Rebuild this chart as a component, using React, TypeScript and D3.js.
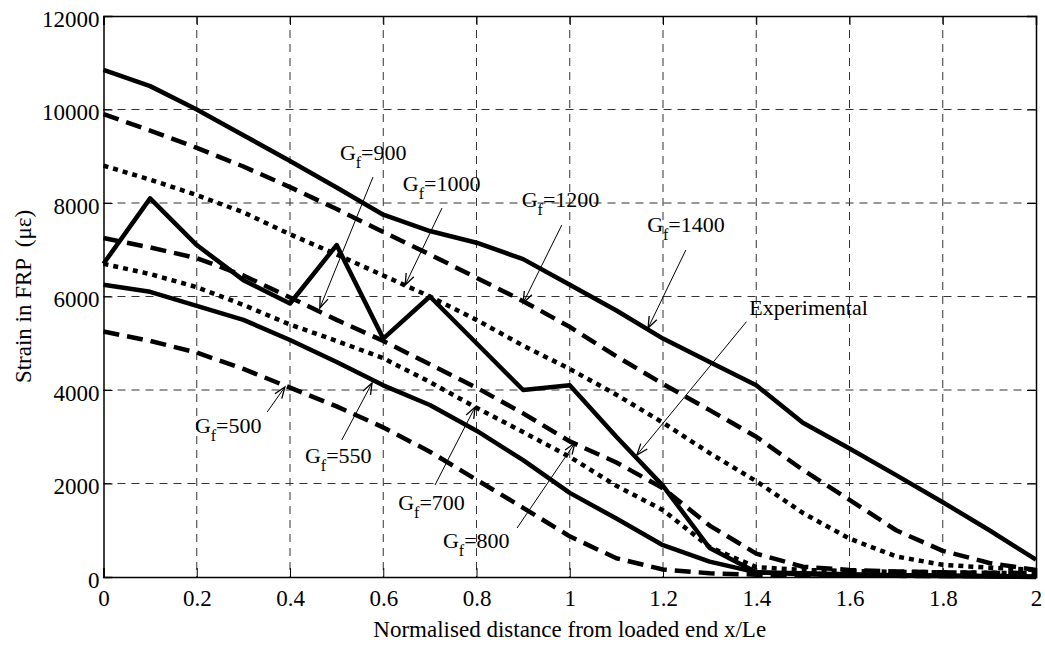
import React, { useEffect, useRef } from 'react';
import * as d3 from 'd3';

// normalised distance x/Le of every sample
const xValues = [0, 0.1, 0.2, 0.3, 0.4, 0.5, 0.6, 0.7, 0.8, 0.9, 1.0, 1.1, 1.2, 1.3, 1.4, 1.5, 1.6, 1.7, 1.8, 1.9, 2.0];

// strain in FRP (micro-strain)
const gf1400 = [10850, 10500, 10000, 9450, 8900, 8330, 7750, 7400, 7150, 6800, 6250, 5700, 5100, 4600, 4100, 3300, 2750, 2180, 1600, 1000, 370];
const gf1200 = [9900, 9550, 9180, 8780, 8340, 7870, 7380, 6900, 6400, 5900, 5350, 4720, 4130, 3570, 3000, 2290, 1650, 1000, 560, 300, 150];
const gf1000 = [8800, 8500, 8170, 7800, 7330, 6900, 6450, 6000, 5500, 4950, 4450, 3900, 3300, 2650, 2050, 1370, 820, 440, 260, 200, 150];
const gf800 = [7250, 7050, 6820, 6450, 5980, 5500, 5050, 4550, 4050, 3500, 2900, 2450, 1900, 1100, 500, 220, 150, 120, 100, 90, 80];
const gf700 = [6700, 6480, 6200, 5820, 5400, 5050, 4680, 4170, 3620, 3100, 2570, 1950, 1430, 640, 210, 150, 130, 110, 100, 90, 80];
const gf550 = [6250, 6100, 5800, 5500, 5070, 4600, 4100, 3680, 3130, 2500, 1800, 1250, 680, 330, 100, 80, 60, 40, 30, 20, 10];
const gf500 = [5250, 5050, 4800, 4450, 4050, 3650, 3200, 2680, 2080, 1480, 870, 400, 160, 80, 50, 40, 30, 25, 20, 20, 20];
const experimental = [6700, 8100, 7100, 6350, 5850, 7100, 5100, 6000, 5000, 4000, 4100, 3000, 1950, 620, 100, 60, 40, 30, 20, 10, 0];

const xTicks = [0, 0.2, 0.4, 0.6, 0.8, 1, 1.2, 1.4, 1.6, 1.8, 2];
const yTicks = [0, 2000, 4000, 6000, 8000, 10000, 12000];

type LineStyle = 'solid' | 'dashed' | 'dotted';

const curves: { values: number[]; style: LineStyle }[] = [
  { values: gf1400, style: 'solid' },
  { values: gf1200, style: 'dashed' },
  { values: gf1000, style: 'dotted' },
  { values: gf800, style: 'dashed' },
  { values: gf700, style: 'dotted' },
  { values: gf550, style: 'solid' },
  { values: gf500, style: 'dashed' },
  { values: experimental, style: 'solid' },
];

// label anchor, arrow tail and arrow tip, all in data units
const labels = [
  { gf: '900', at: [0.507, 8920], from: [0.578, 8556], to: [0.464, 5754] },
  { gf: '1000', at: [0.642, 8257], from: [0.726, 7893], to: [0.647, 6246] },
  { gf: '1200', at: [0.897, 7914], from: [0.983, 7529], to: [0.9, 5861] },
  { gf: '1400', at: [1.166, 7380], from: [1.249, 6995], to: [1.168, 5326] },
  { gf: '500', at: [0.196, 3080], from: [0.351, 3529], to: [0.389, 4064] },
  { gf: '550', at: [0.432, 2439], from: [0.511, 2930], to: [0.576, 4150] },
  { gf: '700', at: [0.632, 1433], from: [0.711, 1968], to: [0.797, 3636] },
  { gf: '800', at: [0.728, 620], from: [0.887, 1048], to: [1.011, 2866] },
];
const expLabel = { text: 'Experimental', at: [1.385, 5604], from: [1.379, 5461], to: [1.144, 2610] };

const FONT = '"Liberation Serif", "Times New Roman", serif';

const StrainChart: React.FC = () => {
  const svgRef = useRef<SVGSVGElement>(null);

  useEffect(() => {
    if (!svgRef.current) return;
    const svg = d3.select(svgRef.current);
    svg.selectAll('*').remove();

    const width = 1045;
    const height = 645;
    const margin = { top: 16, right: 9, bottom: 68, left: 103.5 };
    const innerW = width - margin.left - margin.right;
    const innerH = height - margin.top - margin.bottom;

    svg.attr('width', width).attr('height', height);

    const x = d3.scaleLinear().domain([0, 2]).range([0, innerW]);
    const y = d3.scaleLinear().domain([0, 12000]).range([innerH, 0]);

    const g = svg.append('g').attr('transform', `translate(${margin.left},${margin.top})`);

    // grid
    g.selectAll('.vgrid')
      .data(xTicks.slice(1, -1))
      .enter()
      .append('line')
      .attr('x1', d => x(d)).attr('x2', d => x(d))
      .attr('y1', 0).attr('y2', innerH)
      .attr('stroke', '#333').attr('stroke-width', 1)
      .attr('stroke-dasharray', '8,6');
    g.selectAll('.hgrid')
      .data(yTicks.slice(1, -1))
      .enter()
      .append('line')
      .attr('x1', 0).attr('x2', innerW)
      .attr('y1', d => y(d)).attr('y2', d => y(d))
      .attr('stroke', '#333').attr('stroke-width', 1)
      .attr('stroke-dasharray', '8,6');

    // curves
    const line = d3.line<number>()
      .x((_, i) => x(xValues[i]))
      .y(d => y(d));

    const dash: Record<LineStyle, string | null> = {
      solid: null,
      dashed: '16,8',
      dotted: '5,5',
    };

    curves.forEach(c => {
      g.append('path')
        .datum(c.values)
        .attr('d', line)
        .attr('fill', 'none')
        .attr('stroke', '#000')
        .attr('stroke-width', 4.5)
        .attr('stroke-linejoin', 'round')
        .attr('stroke-dasharray', dash[c.style]);
    });

    // arrows
    const drawArrow = (from: number[], to: number[]) => {
      const x1 = x(from[0]), y1 = y(from[1]);
      const x2 = x(to[0]), y2 = y(to[1]);
      const ang = Math.atan2(y2 - y1, x2 - x1);
      const len = 12, spread = 0.36;
      g.append('line')
        .attr('x1', x1).attr('y1', y1).attr('x2', x2).attr('y2', y2)
        .attr('stroke', '#000').attr('stroke-width', 1);
      g.append('path')
        .attr('d', `M${x2 - len * Math.cos(ang - spread)},${y2 - len * Math.sin(ang - spread)}L${x2},${y2}L${x2 - len * Math.cos(ang + spread)},${y2 - len * Math.sin(ang + spread)}`)
        .attr('fill', 'none').attr('stroke', '#000').attr('stroke-width', 1.3);
    };

    labels.forEach(l => {
      drawArrow(l.from, l.to);
      const t = g.append('text')
        .attr('x', x(l.at[0]))
        .attr('y', y(l.at[1]))
        .style('font-family', FONT)
        .style('font-size', '22px');
      t.append('tspan').text('G');
      t.append('tspan').attr('dy', 8).style('font-size', '16px').text('f');
      t.append('tspan').attr('dy', -8).text(`=${l.gf}`);
    });

    drawArrow(expLabel.from, expLabel.to);
    g.append('text')
      .attr('x', x(expLabel.at[0]))
      .attr('y', y(expLabel.at[1]))
      .style('font-family', FONT)
      .style('font-size', '22px')
      .text(expLabel.text);

    // axes box with inward ticks
    const tick = 9;
    const axisB = g.append('g').attr('transform', `translate(0,${innerH})`)
      .call(d3.axisBottom(x).tickValues(xTicks).tickSize(-tick).tickPadding(13).tickFormat(d => String(d)));
    const axisT = g.append('g')
      .call(d3.axisTop(x).tickValues(xTicks).tickSize(-tick).tickFormat(() => ''));
    const axisL = g.append('g')
      .call(d3.axisLeft(y).tickValues(yTicks).tickSize(-tick).tickPadding(4).tickFormat(d => String(d)));
    const axisR = g.append('g').attr('transform', `translate(${innerW},0)`)
      .call(d3.axisRight(y).tickValues(yTicks).tickSize(-tick).tickFormat(() => ''));

    [axisB, axisT, axisL, axisR].forEach(a => {
      a.select('.domain').attr('stroke', '#000').attr('stroke-width', 1.5);
      a.selectAll('.tick line').attr('stroke', '#000').attr('stroke-width', 1);
      a.selectAll('text')
        .style('font-family', FONT)
        .style('font-size', '23px')
        .attr('fill', '#000');
    });
    axisB.selectAll('text').attr('dy', '0.71em');
    axisL.selectAll('text').attr('dy', '0.45em');

    // axis titles
    svg.append('text')
      .attr('x', margin.left + innerW / 2)
      .attr('y', 637)
      .attr('text-anchor', 'middle')
      .style('font-family', FONT)
      .style('font-size', '23px')
      .text('Normalised distance from loaded end x/Le');

    svg.append('text')
      .attr('transform', `translate(31,${margin.top + innerH / 2}) rotate(-90)`)
      .attr('text-anchor', 'middle')
      .style('font-family', FONT)
      .style('font-size', '23px')
      .style('white-space', 'pre')
      .text('Strain in FRP  (με)');
  }, []);

  return <svg ref={svgRef} style={{ display: 'block' }} />;
};

export default function App() {
  return (
    <div style={{ position: 'fixed', left: 0, top: 0, background: '#fff' }}>
      <StrainChart />
    </div>
  );
}
